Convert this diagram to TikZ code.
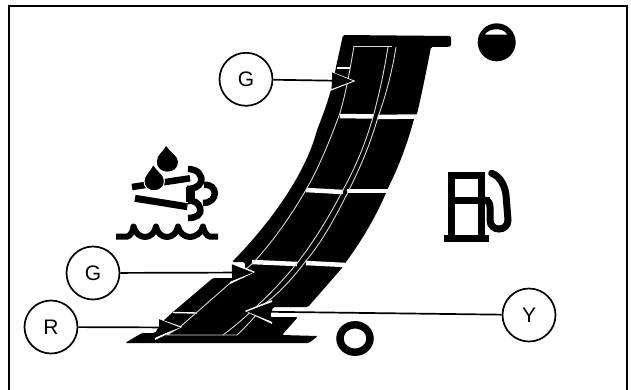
\documentclass[tikz,border=0pt]{standalone}
\usepackage{fontspec}
\setmainfont{Liberation Sans}
\usetikzlibrary{arrows.meta}
\tikzset{
  x=1pt,y=-1pt,
  callout/.style={draw=black,fill=white,circle,line width=1.7pt,minimum size=53pt,inner sep=0pt,font=\fontsize{21}{22}\selectfont},
  leader/.style={line width=1.7pt,-{Triangle[length=21pt,width=16pt,fill=black]}},
  halo/.style={draw=white,line width=1.8pt},
  hair/.style={draw=white!85!black,line width=0.9pt},
  band/.style={draw=white,line width=4.5pt},
  thinband/.style={draw=white,line width=1.4pt},
  iconline/.style={draw=black,line width=7pt},
}
\begin{document}
\begin{tikzpicture}
\useasboundingbox (0,0) rectangle (631,389);
\fill[white] (0,0) rectangle (631,389);
\draw[line width=1.8pt] (9,392) -- (9,6) -- (627,6) -- (627,392);
% gauge body
\fill[rounded corners=1.5pt] (343,35) -- (451,36) -- (451,46.7) -- (431,47)
  .. controls (425,78) and (421,97) .. (417,114) -- (414,119)
  .. controls (407,145) and (398,168) .. (388,188) -- (386,193)
  .. controls (375,218) and (362,240) .. (346,262) -- (342,268)
  -- (308,307) -- (273,307) -- (270,317) -- (298,317) -- (282,335) -- (318,336)
  -- (309,343) -- (125,343) -- (142,333) -- (155,333) -- (162,322) -- (173,312)
  -- (213,278) -- (228,278) -- (245,278) -- (245,262) -- (232,262)
  .. controls (270,223) and (305,175) .. (317,130)
  .. controls (325,110) and (332,90) .. (336,67) -- cycle;
% white cuts
\draw[band] (340,116) -- (373,116.5);
\draw[band] (378,117) -- (417,116.5);
\draw[band] (306,190) -- (343,192);
\draw[band] (347,191) -- (388,191);
\draw[band] (252,262) -- (297,264);
\draw[band] (306,263) -- (345,265);
\draw[thinband] (173,312.5) -- (197,313);
\draw[thinband] (337,68) -- (350,68);
% hairlines
\draw[hair] (354,46) -- (392,46);
\draw[hair] (354,46) .. controls (350,70) and (346,92) .. (340,113)
  .. controls (330,140) and (320,165) .. (307,188)
  .. controls (290,218) and (270,245) .. (253,263) -- (180,327)
  -- (167,335) -- (237,335);
\draw[hair] (388,47) .. controls (384,72) and (379,95) .. (373,117)
  .. controls (365,145) and (355,168) .. (343,190)
  .. controls (330,215) and (315,240) .. (298,262)
  .. controls (285,278) and (272,292) .. (260,303)
  .. controls (248,315) and (235,326) .. (223,335);
\draw[hair] (396,47) .. controls (392,72) and (386,95) .. (378,117)
  .. controls (370,145) and (360,168) .. (348,192)
  .. controls (335,218) and (322,242) .. (305,262)
  .. controls (293,278) and (280,292) .. (267,302)
  .. controls (258,313) and (248,325) .. (237,335);
% callouts
\node[callout] (g1) at (246,79.3) {G};
\node[callout] (g2) at (93,273) {G};
\node[callout] (r) at (51,327) {R};
\node[callout] (y) at (529,315) {Y};
\coordinate (tg1) at (353,81);
\coordinate (tg2) at (253,272.5);
\coordinate (tr) at (180,327.5);
\coordinate (ty) at (247,311.5);
% arrow halos
\draw[halo] (330,72) -- (353,81) -- (330,90);
\draw[halo] (230,262) -- (253,272) -- (230,283);
\draw[halo] (160,320) -- (180,327) -- (155,339);
\draw[halo] (272,301) -- (247,311) -- (272,323);
\draw[leader] (g1) -- (tg1);
\draw[leader] (g2) -- (tg2);
\draw[leader] (r) -- (tr);
\draw[leader] (y) -- (ty);
% oil ball
\fill (496.7,42.3) circle (19);
\fill[white] (485,34.5) .. controls (490,27.5) and (503,27.5) .. (507,34.5) -- cycle;
% ring
\draw[line width=7.5pt] (355,338.5) ellipse (15 and 13.7);
% fuel pump
\draw[iconline] (451.7,241) -- (451.7,175) -- (481,175) -- (481,241);
\draw[iconline] (451.7,200) -- (490,200);
\fill (444,235) rectangle (489,241.7);
\draw[iconline,line cap=round] (491.7,173.3) .. controls (500,176) and (505,186) .. (506,195)
  -- (508,220) .. controls (508,232) and (490,232) .. (490,220) -- (490,207)
  .. controls (490,203) and (488,200) .. (484,200);
% coolant icon
\fill (166,146) .. controls (170,152) and (178,156) .. (178,162) .. controls (178,175) and (156,175) .. (157,161) .. controls (157,155) and (163,152) .. (166,146) -- cycle;
\draw[line width=6.5pt] (132,187) -- (190,178.3);
\draw[line width=7pt] (135,198.3) -- (187.3,206.7);
\fill[draw=white,line width=1pt] (153.3,164) .. controls (156,170) and (165,175) .. (164.5,181) .. controls (164.5,194) and (143.5,194) .. (144,181) .. controls (144,175) and (151,170) .. (153.3,164) -- cycle;
\begin{scope}[line width=6.5pt]
\draw (188,169) .. controls (197,169) and (203,175) .. (201,182) .. controls (199,187) and (193,189) .. (187,189);
\fill (186,187) rectangle (195,202);
\draw (204,185) .. controls (218,183) and (219,203) .. (203,203);
\draw (188,201) .. controls (194,200) and (199,203) .. (200,208) .. controls (202,215) and (196,218) .. (188,218);
\end{scope}
\draw[line width=6pt,line join=round] (116,236.7) -- (127,236.7) .. controls (130,236) and (133,232) .. (133.5,226.5)
  .. controls (135,233) and (140,237) .. (145,237) .. controls (150,237) and (155,233) .. (156,226.5)
  .. controls (157,233) and (162,237) .. (167,237) .. controls (172,237) and (177,233) .. (178,226.5)
  .. controls (179,233) and (185,237) .. (190,237) .. controls (195,237) and (202,233) .. (203,226.5)
  .. controls (204,232) and (207,236) .. (210,236.7) -- (218,236.7);
\end{tikzpicture}
\end{document}
